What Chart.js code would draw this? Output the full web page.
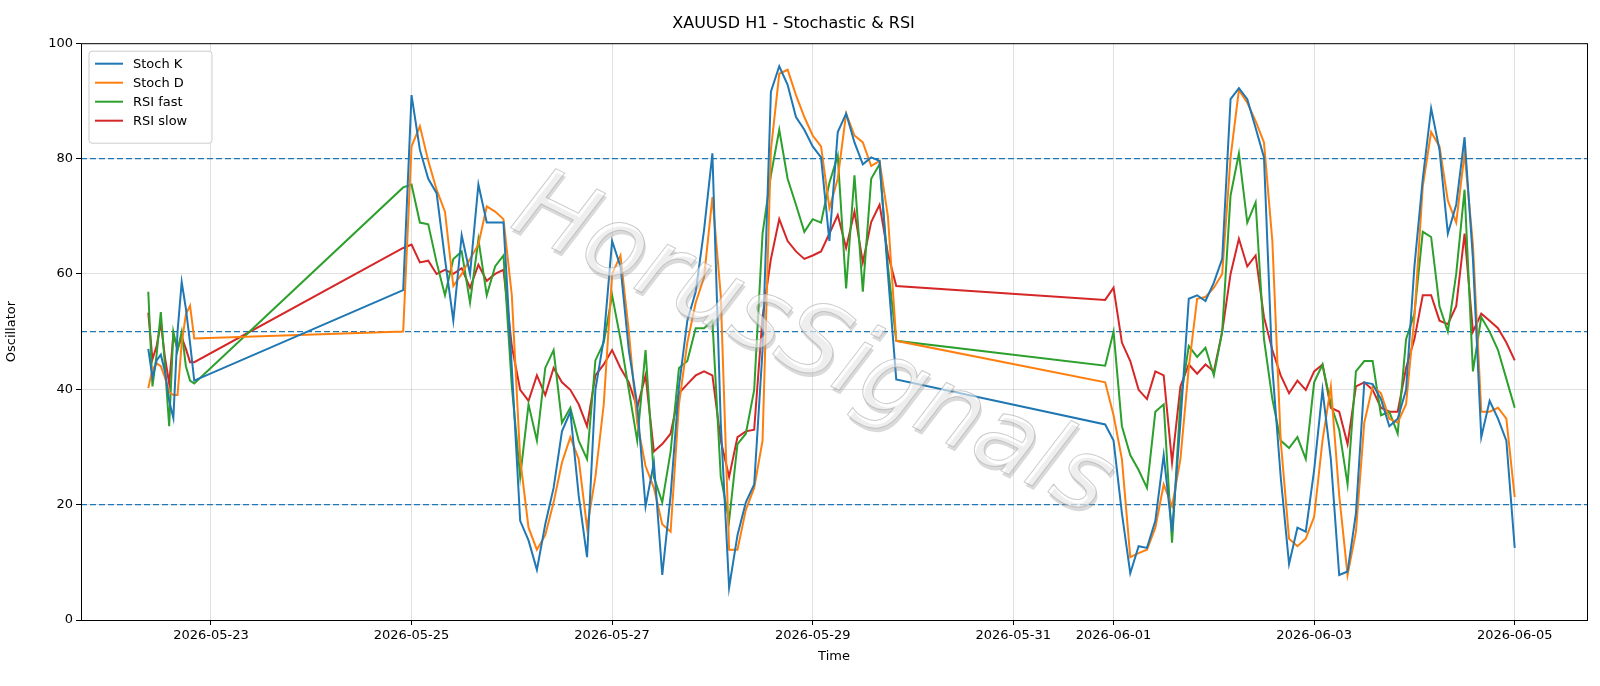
<!DOCTYPE html>
<html>
<head>
<meta charset="utf-8">
<script src="https://cdn.jsdelivr.net/npm/chart.js@4.4.1/dist/chart.umd.min.js"></script>
<style>
  html, body { margin: 0; padding: 0; background: #fff; }
  #wrap { width: 1600px; height: 686px; }
</style>
</head>
<body>
<div id="wrap"><canvas id="chartOsc"></canvas></div>
<script>
// hours since 2026-05-22 00:00
const hours = [
  9, 10, 11, 12, 13, 14, 15, 16, 17, 18, 19, 20,
  70, 72, 74, 76, 78, 80, 82, 84, 86, 88, 90, 92, 94, 96, 98, 100, 102, 104, 106, 108,
  110, 112, 114, 116, 118, 120, 122, 124, 126, 128, 130, 132, 134, 136, 138, 140, 142, 144,
  146, 148, 150, 152, 154, 156, 158, 160, 162, 164, 166, 168, 170, 172, 174, 176, 178, 180,
  182, 184, 186, 188,
  238, 240, 242, 244, 246, 248, 250, 252, 254, 256, 258, 260, 262, 264, 266, 268, 270, 272,
  274, 276, 278, 280, 282, 284, 286, 288, 290, 292, 294, 296, 298, 300, 302, 304, 306, 308,
  310, 312, 314, 316, 318, 320, 322, 324, 326, 328, 330, 332, 334, 336
];

const stochK = [
  47, 42, 45, 46, 43, 38, 35, 50, 58.6, 54, 48, 41.5,
  57.2, 91, 81.5, 76.5, 74, 62.6, 51.9, 66.7, 60, 75.5, 68.9, 68.9, 68.9, 43.7, 17.2, 13.8, 8.7, 16.6,
  22.9, 32.7, 36.1, 21.6, 10.9, 39.9, 48.7, 65.7, 61.3, 46.8,
  37.4, 19.7, 27.3, 7.8, 21.6, 40.5, 51.9, 56.9, 67.6, 80.9, 34.2, 5.6, 14.7, 20.4, 23.5, 46.8,
  91.6, 96, 92.8, 87.2, 85, 82.1, 80.2, 65.7, 84.6, 87.8, 82.8, 79, 80.2, 79.6, 60, 41.7,
  33.9, 31.1, 18.5, 8.1, 12.8, 12.5, 17.2, 28.6, 15.3, 34.2, 55.7, 56.3, 55.3, 58.5, 62.6, 90.3,
  92.2, 90.3, 85.3, 80.2, 43.7, 24.8, 9.7,
  16, 15.3, 26, 39.9, 27.9, 7.8, 8.4, 18.5, 41.2, 40.9, 38.3, 33.6, 34.9, 39.9, 61.3, 76.5, 88.7,
  81.5, 67, 72, 83.7, 62.6, 31.7, 38, 34.9, 31.1, 12.5
];

const stochD = [
  40.2, 43.5, 44.5, 44, 42, 39.5, 39, 39, 48, 53, 54.5, 48.8,
  50, 82.1, 85.6, 79.6, 74.6, 70.8, 57.9, 60, 62.6, 65.1, 71.7, 70.8, 69.5, 56.3, 27.9, 16, 12.2, 14.7,
  20.4, 27.3, 31.7, 27.9, 16, 24.8, 37.4, 60, 63.2, 50,
  34.2, 26.7, 22.9, 16.6, 15.3, 37.4, 48.1, 55, 59.4, 73.3, 56.3, 12.2, 12.2, 19.1, 22.9, 31.1,
  81.5, 94.7, 95.4, 91, 87.2, 84, 82.1, 71.4, 76.5, 87.8, 84, 82.8, 78.7, 79.6, 70, 48.4,
  41.2, 35.5, 27.9, 10.9, 11.6, 12.2, 16, 23.5, 19.7, 27.9, 43.7, 55.7, 56, 57.6, 60, 80.2,
  91.9, 89.7, 86.5, 82.8, 65.7, 31.1, 14.1,
  12.8, 14.1, 17.9, 31.1, 40.5, 21.6, 7.8, 15.3, 34.2, 40.5, 39.3, 34.9, 34.2, 37.4, 52.5, 75.2, 84.6,
  82.1, 72.7, 68.9, 80.9, 65.1, 36.1, 36.1, 36.8, 34.9, 21.3
];

const rsiFast = [
  56.9, 40.5, 46, 53.4, 44, 33.6, 50, 46.7, 50, 44, 41.5, 41,
  75, 75.5, 68.9, 68.6, 62, 56.3, 62.6, 63.9, 55, 66, 56.3, 61.3, 63.2, 40.5, 24.8, 37.4, 31.1, 43.7,
  46.8, 34.2, 36.8, 31.1, 27.9, 45, 48.1, 56.3, 48.7, 39.9,
  31.1, 46.8, 24.8, 20.4, 29.2, 43.7, 44.9, 50.6, 50.6, 51.9, 24.8, 17.2, 30.5, 32.3, 39.9, 67,
  77.1, 85, 76.5, 72, 67.3, 69.5, 68.9, 75.8, 80.5, 57.5, 77.1, 56.9, 76.5, 79, 61.3, 48.4,
  44.1, 50, 33.6, 28.6, 26, 22.9, 36.1, 37.4, 13.4, 38, 47.5, 45.6, 47.2, 42.4, 50, 73.6,
  80.9, 68.9, 72.4, 48.7, 38.3, 31.1, 29.8,
  31.7, 27.9, 41.2, 44.3, 37.4, 33, 23.5, 43.1, 44.9, 44.9, 35.5, 36.1, 32.3, 48.7, 53.1, 67.3, 66.4,
  54.4, 50, 60, 74.6, 43.1, 52.5, 50, 46.8, 41.8, 36.8
];

const rsiSlow = [
  53.3, 45.2, 47.5, 51.5, 45.5, 41, 49.4, 47, 49, 47, 44.7, 44.7,
  64.5, 65.1, 62, 62.3, 60, 60.7, 60, 61, 57.6, 61.6, 58.8, 60, 60.7, 47.5, 39.9, 38, 42.4, 39,
  43.7, 41.2, 39.9, 37.4, 33.6, 42.4, 44.3, 46.8, 43.7, 41.2,
  36.8, 42.4, 29.2, 30.5, 32.3, 39.3, 40.9, 42.4, 43.1, 42.4, 31.1, 24.8, 31.7, 32.7, 33, 52.5,
  62.6, 69.5, 65.7, 63.9, 62.6, 63.2, 63.9, 67, 70.2, 64.5, 70.8, 62, 69, 72, 63.5, 57.9,
  55.5, 57.6, 48.1, 44.9, 39.9, 38.3, 43.1, 42.4, 27.3, 40.5, 44.3, 42.7, 44.3, 43.1, 50, 60,
  66.1, 61.3, 63.2, 52.5, 46.8, 42.4, 39.3,
  41.5, 39.9, 43.1, 44.3, 36.8, 36.1, 30.5, 40.5, 41.2, 39.9, 36.8, 36.1, 36.1, 43.7, 48.7, 56.3, 56.3,
  51.9, 51.3, 54.4, 67, 50, 53.1, 51.9, 50.6, 48.1, 45
];

const levels = [20, 50, 80];
const xTicks = [24, 72, 120, 168, 216, 240, 288, 336];
const xMin = -7.1, xMax = 353.3;

const colors = ['#1f77b4', '#ff7f0e', '#2ca02c', '#d62728'];
const names = ['Stoch K', 'Stoch D', 'RSI fast', 'RSI slow'];
const base = Date.UTC(2026, 4, 22);

const toPts = (vals) => vals.map((v, i) => ({ x: hours[i], y: v }));

const seriesSets = [stochK, stochD, rsiFast, rsiSlow].map((vals, i) => ({
  label: names[i],
  data: toPts(vals),
  borderColor: colors[i],
  borderWidth: 2,
  pointRadius: 0,
  tension: 0,
}));

const levelSets = levels.map(l => ({
  label: 'level ' + l,
  data: [{ x: xMin, y: l }, { x: xMax, y: l }],
  borderColor: '#1f77b4',
  borderWidth: 1.3,
  borderDash: [6, 3],
  pointRadius: 0,
}));

const frame = {
  id: 'frame',
  afterDatasetsDraw(chart) {
    const { ctx, chartArea: a } = chart;
    ctx.save();
    // watermark
    ctx.translate(812, 348);
    ctx.rotate(0.46);
    ctx.font = 'italic 100px "DejaVu Sans"';
    ctx.textAlign = 'center';
    ctx.textBaseline = 'middle';
    ctx.fillStyle = 'rgba(150,150,150,0.35)';
    ctx.fillText('HorusSignals', 3, 3);
    ctx.fillStyle = 'rgba(255,255,255,0.55)';
    ctx.fillText('HorusSignals', 0, 0);
    ctx.strokeStyle = 'rgba(170,170,170,0.6)';
    ctx.lineWidth = 1;
    ctx.strokeText('HorusSignals', 0, 0);
    ctx.restore();

    ctx.save();
    ctx.strokeStyle = '#000';
    ctx.lineWidth = 1;
    ctx.strokeRect(a.left + 0.5, a.top + 0.5, a.right - a.left, a.bottom - a.top);
    // legend
    const lx = a.left + 8, ly = a.top + 8;
    ctx.fillStyle = 'rgba(255,255,255,0.85)';
    ctx.strokeStyle = '#cccccc';
    ctx.beginPath();
    ctx.roundRect(lx, ly, 123, 92, 3);
    ctx.fill();
    ctx.stroke();
    ctx.font = '13px "DejaVu Sans"';
    ctx.textBaseline = 'middle';
    names.forEach((n, i) => {
      const y = ly + 12.5 + i * 19;
      ctx.strokeStyle = colors[i];
      ctx.lineWidth = 2;
      ctx.beginPath();
      ctx.moveTo(lx + 6, y);
      ctx.lineTo(lx + 34, y);
      ctx.stroke();
      ctx.fillStyle = '#000';
      ctx.fillText(n, lx + 44, y + 1);
    });
    ctx.restore();
  }
};

new Chart(document.getElementById('chartOsc'), {
  type: 'line',
  data: { datasets: [...seriesSets, ...levelSets] },
  options: {
    responsive: true,
    maintainAspectRatio: false,
    animation: false,
    layout: { padding: { right: 13, left: 0, bottom: 18, top: 0 } },
    plugins: {
      legend: { display: false },
      tooltip: { enabled: false },
      title: {
        display: true,
        text: 'XAUUSD H1 - Stochastic & RSI',
        color: '#000',
        font: { family: 'DejaVu Sans', size: 16, weight: 'normal' },
        padding: { top: 14, bottom: 10 },
      },
    },
    scales: {
      x: {
        type: 'linear',
        min: xMin,
        max: xMax,
        afterBuildTicks: (s) => { s.ticks = xTicks.map(v => ({ value: v })); },
        afterFit: (s) => { s.height = 48; },
        ticks: {
          color: '#000',
          font: { family: 'DejaVu Sans', size: 13 },
          maxRotation: 0,
          autoSkip: false,
          callback: (v) => new Date(base + v * 3600e3).toISOString().slice(0, 10),
        },
        grid: { color: 'rgba(0,0,0,0.12)', tickColor: '#000', tickLength: 5 },
        border: { display: false },
        title: { display: true, text: 'Time', color: '#000', font: { family: 'DejaVu Sans', size: 13 }, padding: { top: 2 } },
      },
      y: {
        min: 0,
        max: 100,
        afterFit: (s) => { s.width = 81; },
        ticks: { stepSize: 20, color: '#000', font: { family: 'DejaVu Sans', size: 13 } },
        grid: { color: 'rgba(0,0,0,0.12)', tickColor: '#000', tickLength: 5 },
        border: { display: false },
        title: { display: true, text: 'Oscillator', color: '#000', font: { family: 'DejaVu Sans', size: 13 }, padding: { bottom: 6 } },
      },
    },
  },
  plugins: [frame],
});
</script>
</body>
</html>
